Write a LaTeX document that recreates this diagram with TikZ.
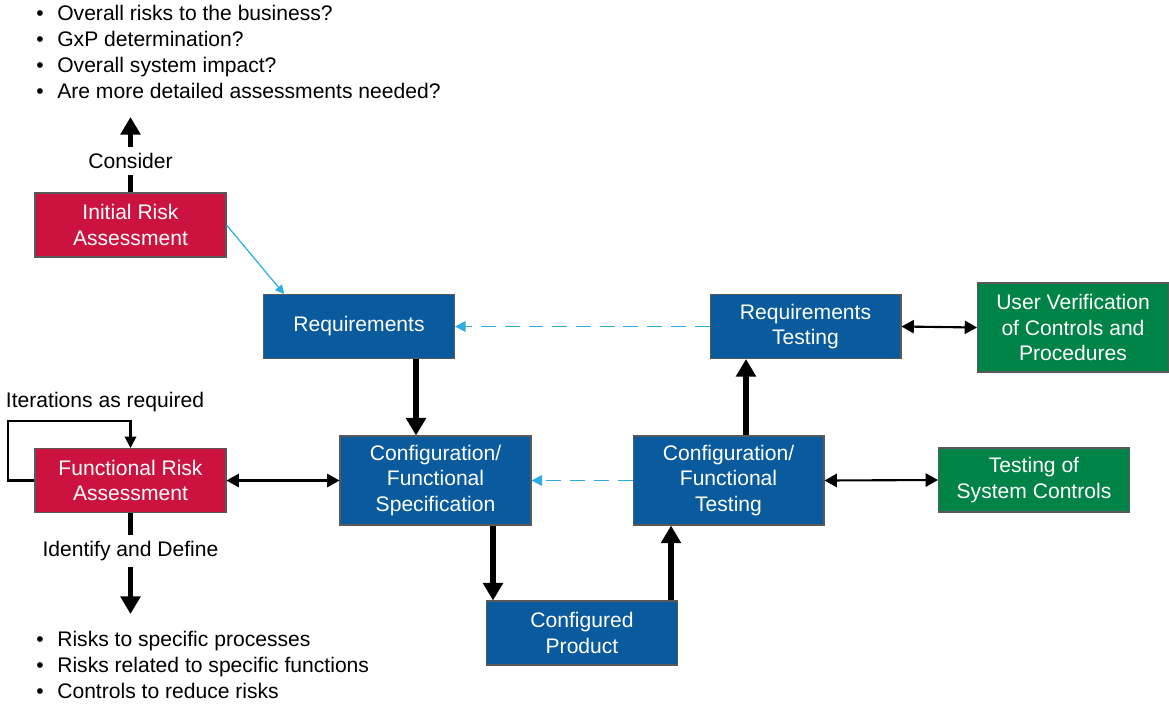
\documentclass[tikz,border=0pt]{standalone}
\usepackage{fontspec}
\setmainfont{Liberation Sans}
\usepackage{tikz}
\usetikzlibrary{arrows.meta,positioning}
\definecolor{riskred}{RGB}{204,18,62}
\definecolor{specblue}{RGB}{10,90,158}
\definecolor{verifygreen}{RGB}{0,131,70}
\definecolor{linkblue}{RGB}{45,172,228}
\newcommand{\bulletline}[1]{\makebox[0.42cm][l]{•}#1}
\tikzstyle{every node}=[font=\fontsize{12}{14.5}\selectfont]
\tikzstyle{flowbox}=[draw=black!65,line width=0.6pt,text=white,align=center,
  minimum width=3.82cm,minimum height=1.28cm,inner sep=2pt]
\tikzstyle{tallbox}=[minimum height=1.78cm]
\tikzstyle{riskbox}=[flowbox,fill=riskred]
\tikzstyle{specbox}=[flowbox,fill=specblue]
\tikzstyle{verifybox}=[flowbox,fill=verifygreen]
\tikzstyle{listnode}=[anchor=north west,align=left,inner sep=0pt,
  font=\fontsize{12}{14.8}\selectfont]
\tikzstyle{bigshaft}=[line width=3pt]
\tikzstyle{bigarrow}=[line width=3pt,-{Triangle[width=11pt,length=10pt]}]
\tikzstyle{pairarrow}=[line width=1.2pt,{Triangle[width=7.5pt,length=7pt]}-{Triangle[width=7.5pt,length=7pt]}]
\tikzstyle{looparrow}=[line width=1.2pt,-{Triangle[width=6.5pt,length=6.5pt]}]
\tikzstyle{feedback}=[linkblue,line width=1.1pt,dash pattern=on 8.5pt off 5pt,-{Triangle[width=6pt,length=6pt]}]
\tikzstyle{handover}=[linkblue,line width=0.7pt,-{Triangle[width=5pt,length=5pt]}]

\begin{document}
\begin{tikzpicture}[x=0.02cm,y=-0.02cm]
  \useasboundingbox (0,0) rectangle (1169,704);

  % risk assessments
  \node [riskbox] (ira) at (130.5,225) {Initial Risk\\Assessment};
  \node [riskbox] (fra) at (130.5,480.5) {Functional Risk\\Assessment};

  % specification / testing chain
  \node [specbox] (req) at (359,326.5) {Requirements};
  \node [specbox] (reqtest) at (805.5,326.5) {Requirements\\Testing};
  \node [specbox,tallbox] (spec) at (435.5,480.5) {Configuration/\\Functional\\Specification};
  \node [specbox,tallbox] (spectest) at (728.5,480.5) {Configuration/\\Functional\\Testing};
  \node [specbox] (product) at (582,633) {Configured\\Product};

  % verification
  \node [verifybox,tallbox] (userver) at (1073,327.5) {User Verification\\of Controls and\\Procedures};
  \node [verifybox] (syscontrols) at (1034,480) {Testing of\\System Controls};

  % questions and outcomes
  \node [listnode] (questions) at (36,5)
    {\bulletline{Overall risks to the business?}\\
     \bulletline{GxP determination?}\\
     \bulletline{Overall system impact?}\\
     \bulletline{Are more detailed assessments needed?}};
  \node [listnode] (outcomes) at (36,631)
    {\bulletline{Risks to specific processes}\\
     \bulletline{Risks related to specific functions}\\
     \bulletline{Controls to reduce risks}};

  % labels on arrows
  \node (consider) at (130.5,161) {Consider};
  \node (identify) at (130.5,551) {Identify and Define};
  \node (iterations) at (105,402) {Iterations as required};
  \coordinate (considertip) at (130.5,117);
  \coordinate (identifytip) at (130.5,614);
  \coordinate (loopcorner) at (8,421);

  \draw [bigshaft] (ira.north) -- (consider.south);
  \draw [bigarrow] (consider.north) -- (considertip);
  \draw [bigshaft] (fra.south) -- (identify.north);
  \draw [bigarrow] (identify.south) -- (identifytip);
  \draw [looparrow] (fra.west) -| (loopcorner) -| (fra.north);

  \draw [handover] (ira.east) -- ([xshift=12]req.north west);
  \draw [feedback] (reqtest.west) -- (req.east);
  \draw [feedback] (spectest.west) -- (spec.east);

  \draw [bigarrow] (req.south -| 416,0) -- (spec.north -| 416,0);
  \draw [bigarrow] (spec.south -| 493,0) -- (product.north -| 493,0);
  \draw [bigarrow] (product.north -| 671,0) -- (spectest.south -| 671,0);
  \draw [bigarrow] (spectest.north -| 746,0) -- (reqtest.south -| 746,0);

  \draw [pairarrow] (fra.east) -- (spec.west);
  \draw [pairarrow] (reqtest.east) -- (userver.west);
  \draw [pairarrow] (spectest.east) -- (syscontrols.west);
\end{tikzpicture}
\end{document}
